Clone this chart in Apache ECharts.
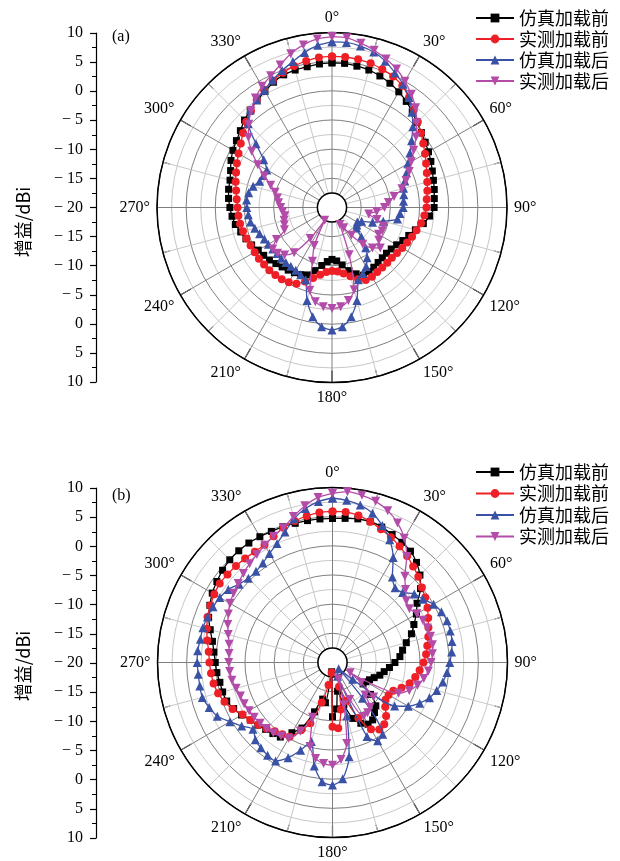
<!DOCTYPE html>
<html>
<head>
<meta charset="utf-8">
<script src="https://cdn.jsdelivr.net/npm/echarts@6/dist/echarts.min.js"></script>
<style>
  html, body { margin: 0; padding: 0; background: #fff; }
  #chart { width: 620px; height: 861px; }
</style>
</head>
<body>
<div id="chart"></div>
<script>
// angle of each measured point, degrees
var angles = [0,5,10,15,20,25,30,35,40,45,50,55,60,65,70,75,80,85,90,95,
  100,105,110,115,120,125,130,135,140,145,150,155,160,165,170,175,180,185,190,195,
  200,205,210,215,220,225,230,235,240,245,250,255,260,265,270,275,280,285,290,295,
  300,305,310,315,320,325,330,335,340,345,350,355];

// (a) gain, dBi
var simBeforeA = [4.8,4.8,4.6,4.4,4.0,3.5,2.9,2.2,1.4,0.6,
  0.0,-0.5,-0.9,-1.3,-1.7,-2.0,-2.2,-2.4,-2.5,-3.2,
  -4.1,-5.2,-6.0,-6.6,-7.2,-7.6,-7.8,-7.8,-7.7,-7.5,
  -7.3,-7.2,-7.9,-8.8,-10.0,-10.8,-11.1,-10.7,-9.9,-8.8,
  -7.7,-7.3,-7.1,-6.9,-6.7,-6.4,-6.0,-5.7,-5.4,-4.8,
  -4.3,-3.8,-3.2,-2.8,-2.5,-2.2,-2.0,-1.9,-1.5,-0.9,
  -0.4,0.0,0.5,1.2,1.8,2.4,3.0,3.7,4.2,4.4,
  4.5,4.7];
var measBeforeA = [5.9,5.9,5.8,5.6,5.2,4.8,4.1,3.0,1.8,0.8,
  -0.1,-0.9,-1.6,-2.2,-2.7,-3.1,-3.4,-3.7,-3.8,-4.1,
  -4.5,-5.0,-5.4,-5.8,-6.1,-6.4,-6.6,-6.6,-6.6,-6.5,
  -6.3,-6.3,-6.9,-7.8,-8.5,-9.0,-9.1,-8.9,-8.3,-7.5,
  -6.5,-5.6,-5.2,-5.0,-4.9,-4.8,-4.8,-4.7,-4.7,-4.6,
  -4.4,-4.2,-4.0,-3.9,-3.8,-3.6,-3.3,-2.9,-2.5,-2.0,
  -1.5,-0.9,-0.1,0.8,1.6,2.5,3.3,4.0,4.6,5.1,
  5.5,5.8];
var simAfterA = [8.4,8.4,8.1,7.6,6.7,5.5,4.4,3.0,1.3,-0.4,
  -2.2,-3.7,-5.0,-5.9,-6.7,-7.3,-7.5,-7.7,-7.8,-8.3,
  -8.6,-10.9,-12.6,-14.4,-15.0,-14.8,-14.5,-12.9,-11.0,-9.5,
  -8.3,-7.5,-6.8,-3.5,-1.0,0.5,1.0,0.5,-1.0,-3.5,
  -6.8,-7.3,-7.6,-7.7,-7.7,-7.7,-7.7,-7.6,-7.4,-7.2,
  -6.8,-6.3,-5.8,-5.6,-5.4,-5.3,-5.5,-6.0,-6.8,-7.0,
  -7.1,-5.7,-3.0,0.3,1.8,2.5,3.2,4.1,5.0,5.9,
  7.0,7.9];
var measAfterA = [9.3,9.2,8.6,7.9,7.1,6.2,5.0,3.7,2.3,0.5,
  -1.2,-2.9,-4.3,-5.4,-6.5,-7.6,-9.2,-10.3,-11.0,-12.3,
  -13.6,-12.0,-10.6,-10.5,-10.8,-10.2,-9.2,-10.2,-11.8,-14.2,
  -16.0,-16.8,-11.4,-5.4,-3.8,-2.9,-2.7,-2.9,-3.6,-5.3,
  -10.2,-12.8,-17.5,-13.5,-9.9,-8.5,-7.8,-7.6,-9.0,-11.0,
  -11.3,-11.5,-11.8,-11.5,-11.2,-10.8,-10.5,-9.9,-8.8,-7.2,
  -5.3,-3.2,-1.3,0.2,1.6,2.9,4.0,4.9,6.0,7.3,
  8.3,9.0];

// (b) gain, dBi
var simBeforeB = [4.7,4.8,5.0,5.0,4.7,4.2,3.8,3.3,2.4,1.2,
  -0.3,-2.3,-3.4,-4.6,-5.6,-6.9,-7.8,-8.4,-9.3,-10.2,
  -11.0,-11.6,-12.4,-13.0,-13.4,-13.6,-11.5,-9.5,-8.8,-8.0,
  -7.8,-8.5,-9.8,-12.5,-15.0,-12.0,-10.7,-18.4,-13.0,-13.5,
  -11.0,-7.6,-6.1,-4.4,-4.1,-3.8,-3.3,-2.8,-2.0,-1.3,
  -0.7,-0.5,-0.4,-0.1,0.1,0.4,0.9,1.7,2.6,3.2,
  3.8,4.2,4.6,4.9,5.0,5.0,4.9,4.8,4.8,4.7,
  4.7,4.7];
var measBeforeB = [5.9,5.9,5.6,5.0,4.3,3.7,3.0,2.3,1.5,0.8,
  0.0,-0.6,-1.2,-1.9,-2.5,-3.0,-3.5,-3.9,-4.4,-5.0,
  -5.6,-6.3,-7.4,-8.5,-8.9,-8.9,-8.2,-7.0,-6.2,-6.0,
  -6.8,-9.5,-13.0,-15.7,-11.8,-8.7,-9.0,-18.3,-16.1,-12.9,
  -8.9,-7.2,-5.3,-5.0,-4.6,-4.0,-3.4,-2.8,-2.2,-1.1,
  -0.3,0.3,0.7,0.9,1.1,1.3,1.8,2.3,2.8,3.1,
  3.4,3.6,3.5,3.4,3.3,3.2,3.3,3.9,4.6,5.1,
  5.5,5.8];
var simAfterB = [8.2,7.9,7.4,6.5,5.0,3.2,0.8,-2.1,-3.3,-3.0,
  -1.7,-1.1,0.0,0.6,0.9,0.9,0.8,0.5,0.1,-0.3,
  -0.8,-1.5,-2.3,-3.5,-5.0,-7.0,-15.5,-18.5,-12.0,-5.0,
  -4.5,-6.0,-17.5,-10.5,-3.6,0.0,1.0,0.5,-2.0,-6.0,
  -4.0,-2.0,-0.5,-0.6,-0.9,-1.3,-2.2,-1.0,0.3,1.8,
  2.5,3.1,3.1,3.1,3.2,3.2,3.0,3.0,2.8,2.6,
  2.3,1.8,0.9,0.4,0.4,0.8,1.6,2.5,3.8,5.5,
  6.8,7.7];
var measAfterB = [9.0,9.4,9.1,8.6,7.7,6.4,4.6,2.2,-0.7,-2.3,
  -3.5,-3.9,-3.3,-2.9,-2.7,-2.6,-2.6,-2.8,-3.1,-3.5,
  -4.1,-4.9,-6.0,-7.5,-16.5,-14.0,-10.8,-12.1,-10.0,-9.5,
  -9.3,-13.0,-17.0,-12.5,-5.9,-3.3,-2.4,-2.6,-3.3,-5.1,
  -10.0,-7.0,-5.0,-4.6,-4.2,-4.0,-3.8,-3.6,-3.5,-3.3,
  -3.2,-2.9,-2.5,-2.3,-2.2,-2.2,-2.0,-1.5,-0.9,-0.3,
  0.3,0.7,1.1,1.6,2.1,2.6,3.2,3.9,4.6,5.9,
  7.3,8.4];

var seriesNames = ['仿真加载前', '实测加载前', '仿真加载后', '实测加载后'];
var gainTickLabels = ['10', '5', '0', '\u2212 5', '\u2212 10', '\u2212 15', '\u2212 20',
  '\u2212 15', '\u2212 10', '\u2212 5', '0', '5', '10'];

var serif = "'Liberation Serif', 'DejaVu Serif', serif";
var cjk = "'Noto Sans CJK SC', sans-serif";

var looks = [
  { color: '#000000', symbol: 'rect', size: 7 },
  { color: '#ee1f26', symbol: 'circle', size: 8 },
  { color: '#3a52a6', symbol: 'triangle', size: 9 },
  { color: '#b34ca8', symbol: 'path://M0,0L10,0L5,9Z', size: 9 }
];

var centers = [[332, 207.5], [332.5, 662.5]];
var R = 175;
var hole = 14.6;

function ring(gains) {
  var pts = gains.map(function (g, i) { return [g, angles[i]]; });
  pts.push([gains[0], 360]);
  return pts;
}

var polar = [], angleAxis = [], radiusAxis = [], series = [];
centers.forEach(function (c, k) {
  // grid polar (with empty centre)
  polar.push({ center: c, radius: [hole, R] });
  angleAxis.push({
    polarIndex: 2 * k, type: 'value', min: 0, max: 360, interval: 30,
    startAngle: 90, clockwise: true,
    axisLine: { show: true, lineStyle: { color: '#000', width: 1.5 } },
    axisTick: { show: true, inside: true, length: 12, lineStyle: { color: '#000', width: 1.2 } },
    minorTick: { show: true, splitNumber: 2, length: 7, lineStyle: { color: '#000', width: 1 } },
    splitLine: { show: true, lineStyle: { color: '#7f7f7f', width: 1 } },
    minorSplitLine: { show: true, lineStyle: { color: '#c8c8c8', width: 1 } },
    axisLabel: {
      margin: 7, color: '#000', fontFamily: serif, fontSize: 16,
      formatter: function (v) { return v === 360 ? '' : v + '°'; }
    }
  });
  radiusAxis.push({
    polarIndex: 2 * k, type: 'value', min: -17.5, max: 10, interval: 2.5,
    axisLine: { show: false }, axisTick: { show: false }, axisLabel: { show: false },
    splitLine: { show: true, lineStyle: { width: 1,
      color: ['#c8c8c8', '#7f7f7f', '#c8c8c8', '#7f7f7f', '#c8c8c8', '#7f7f7f',
              '#c8c8c8', '#7f7f7f', '#c8c8c8', '#7f7f7f', '#c8c8c8', '#000'] } }
  });
  // data polar (full radius, -20 dBi at the centre)
  polar.push({ center: c, radius: R });
  angleAxis.push({
    polarIndex: 2 * k + 1, type: 'value', min: 0, max: 360, startAngle: 90, clockwise: true,
    axisLine: { show: false }, axisTick: { show: false }, axisLabel: { show: false },
    splitLine: { show: false }
  });
  radiusAxis.push({
    polarIndex: 2 * k + 1, type: 'value', min: -20, max: 10,
    axisLine: { show: false }, axisTick: { show: false }, axisLabel: { show: false },
    splitLine: { show: false }
  });
});

var panels = [
  [simBeforeA, measBeforeA, simAfterA, measAfterA],
  [simBeforeB, measBeforeB, simAfterB, measAfterB]
];
panels.forEach(function (sets, k) {
  sets.forEach(function (gains, j) {
    var lk = looks[j];
    series.push({
      name: seriesNames[j], type: 'line', coordinateSystem: 'polar', polarIndex: 2 * k + 1,
      data: ring(gains), clip: false, smooth: 0.25,
      symbol: lk.symbol, symbolSize: lk.size, showSymbol: true,
      itemStyle: { color: lk.color },
      lineStyle: { color: lk.color, width: 1.3 },
      animation: false, z: 3 + j
    });
  });
});

function leftAxis(idx, top) {
  return {
    gridIndex: idx, type: 'value', min: 0, max: 12, interval: 1,
    axisLine: { show: true, lineStyle: { color: '#000', width: 1.2 } },
    axisTick: { show: true, inside: false, length: 6, lineStyle: { color: '#000', width: 1.2 } },
    minorTick: { show: true, splitNumber: 2, length: 4, lineStyle: { color: '#000', width: 1 } },
    splitLine: { show: false },
    axisLabel: { margin: 13, color: '#000', fontFamily: serif, fontSize: 16,
      formatter: function (v) { return gainTickLabels[12 - v]; } }
  };
}

var legendBase = {
  orient: 'vertical', left: 470, itemWidth: 38, itemHeight: 11,
  textStyle: { fontFamily: cjk, fontSize: 18, color: '#000', lineHeight: 18 },
  data: seriesNames, selectedMode: false
};

var option = {
  backgroundColor: '#fff',
  animation: false,
  polar: polar,
  angleAxis: angleAxis,
  radiusAxis: radiusAxis,
  grid: [
    { left: 96, top: 33, width: 10, height: 349 },
    { left: 96, top: 488, width: 10, height: 350 }
  ],
  xAxis: [
    { gridIndex: 0, type: 'value', show: false },
    { gridIndex: 1, type: 'value', show: false }
  ],
  yAxis: [leftAxis(0), leftAxis(1)],
  legend: [
    Object.assign({}, legendBase, { top: 4, itemGap: 3 }),
    Object.assign({}, legendBase, { top: 458, itemGap: 3.5 })
  ],
  graphic: [
    { type: 'text', left: 112, top: 29, style: { text: '(a)', fontFamily: serif, fontSize: 16, fill: '#000' } },
    { type: 'text', left: 112, top: 488, style: { text: '(b)', fontFamily: serif, fontSize: 16, fill: '#000' } },
    { type: 'text', x: 23, y: 222, rotation: Math.PI / 2,
      style: { text: '增益/dBi', fontFamily: cjk, fontSize: 18, fill: '#000', align: 'center', verticalAlign: 'middle' } },
    { type: 'text', x: 23, y: 666, rotation: Math.PI / 2,
      style: { text: '增益/dBi', fontFamily: cjk, fontSize: 18, fill: '#000', align: 'center', verticalAlign: 'middle' } }
  ],
  series: series
};

var myChart = echarts.init(document.getElementById('chart'), null, { renderer: 'canvas' });
myChart.setOption(option);
window.addEventListener('resize', myChart.resize);
</script>
</body>
</html>
